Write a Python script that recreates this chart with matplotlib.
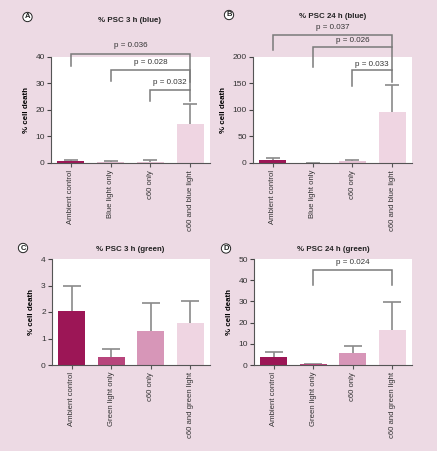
import matplotlib
matplotlib.use("Agg")
import matplotlib.pyplot as plt

plt.rcParams['font.family'] = ['Liberation Sans', 'DejaVu Sans']

cats_blue = ["Ambient control", "Blue light only", "c60 only", "c60 and blue light"]
cats_green = ["Ambient control", "Green light only", "c60 only", "c60 and green light"]

a_mean = [0.9, 0.4, 0.4, 14.7]
a_err = [0.4, 0.4, 0.7, 7.5]
b_mean = [5.0, 0.5, 3.0, 97.0]
b_err = [4.0, 0.3, 2.5, 51.0]
c_mean = [2.03, 0.30, 1.28, 1.58]
c_err = [0.97, 0.32, 1.05, 0.84]
d_mean = [3.6, 0.3, 5.6, 16.5]
d_err = [2.6, 0.4, 3.5, 13.0]

a_ticks = [0, 10, 20, 30, 40]
b_ticks = [0, 50, 100, 150, 200]
c_ticks = [0, 1, 2, 3, 4]
d_ticks = [0, 10, 20, 30, 40, 50]

# brackets: (i, j, y_top, y_left_leg, y_right_leg, label, y_text)
a_sig = [(0, 3, 41.1, 36.7, 30.5, "p = 0.036", 44.5),
         (1, 3, 35.1, 30.9, 27.5, "p = 0.028", 37.8),
         (2, 3, 27.5, 23.4, 23.4, "p = 0.032", 30.2)]
b_sig = [(0, 3, 241.5, 213, 219.5, "p = 0.037", 256),
         (1, 3, 219.5, 182, 175.5, "p = 0.026", 231),
         (2, 3, 175.5, 146, 152, "p = 0.033", 186)]
c_sig = []
d_sig = [(1, 3, 44.8, 37.7, 37.7, "p = 0.024", 48.4)]

colors_blue = ['#9c1656', '#e2bdd0', '#e6c3d5', '#efd5e2']
colors_green = ['#9c1656', '#b8457c', '#d796b8', '#efd5e2']

BG = '#eddae4'
fig = plt.figure(figsize=(4.37, 4.51), dpi=100, facecolor=BG)

W, H = 437.0, 451.0

def make_ax(l, r, t, b):
    return fig.add_axes([l / W, 1 - b / H, (r - l) / W, (b - t) / H])

panels = [
    ("A", "% PSC 3 h (blue)", cats_blue, a_mean, a_err, a_ticks, a_sig, colors_blue,
     (51, 210, 57, 163), (27.5, 17), (130, 21), 4.8),
    ("B", "% PSC 24 h (blue)", cats_blue, b_mean, b_err, b_ticks, b_sig, colors_blue,
     (253, 412, 57, 163), (229, 15), (333, 17), 4.8),
    ("C", "% PSC 3 h (green)", cats_green, c_mean, c_err, c_ticks, c_sig, colors_green,
     (52, 210, 259, 365), (23, 248), (130, 249.5), 6.8),
    ("D", "% PSC 24 h (green)", cats_green, d_mean, d_err, d_ticks, d_sig, colors_green,
     (254, 412, 259, 365), (226, 248.5), (333, 249.5), 6.8),
]

for (lab, title, cats, mean, err, ticks, sig, cols, box, lpos, tpos, cap) in panels:
    ax = make_ax(*box)
    ax.set_facecolor('white')
    x = list(range(len(cats)))
    eb = ax.errorbar(x, mean, yerr=[[0] * len(err), err], fmt='none', ecolor='#8a8a8a',
                     elinewidth=1.2, capsize=cap, capthick=1.2, zorder=1)
    # keep only the upper caps
    eb[1][0].set_visible(False)
    ax.bar(x, mean, width=0.68, color=cols, zorder=2)
    ax.set_xlim(-0.5, 3.5)
    ax.set_ylim(ticks[0], ticks[-1])
    ax.set_yticks(ticks)
    ax.set_xticks(x)
    ax.set_xticklabels(cats, rotation=90, fontsize=5.6, color='#333333')
    ax.tick_params(axis='y', labelsize=6, colors='#444444', labelcolor='#333333',
                   length=3, width=0.8, pad=1.5)
    ax.tick_params(axis='x', length=3, width=0.8, colors='#555555', labelcolor='#333333', pad=2)
    for s in ['top', 'right']:
        ax.spines[s].set_visible(False)
    for s in ['left', 'bottom']:
        ax.spines[s].set_color('#555555')
        ax.spines[s].set_linewidth(0.8)
    ax.set_ylabel("% cell death", fontsize=5.7, fontweight='bold', labelpad=4)
    for (i, j, yt, yl, yr, txt, ytx) in sig:
        ax.plot([i, i, j, j], [yl, yt, yt, yr], color='#7a7a7a', lw=1.1,
                clip_on=False, zorder=3, solid_joinstyle='miter')
        ax.text((i + j) / 2, ytx, txt, ha='center', va='center', fontsize=5.8,
                color='#333333', clip_on=False)
    fig.text(tpos[0] / W, 1 - tpos[1] / H, title, ha='center', va='center',
             fontsize=5.7, fontweight='bold', color='#222222')
    fig.text(lpos[0] / W, 1 - lpos[1] / H, lab, ha='center', va='center',
             fontsize=5.5, fontweight='bold', color='#222222',
             bbox=dict(boxstyle='circle,pad=0.15', fc='white', ec='#222222', lw=0.7))

fig.savefig("out.png", dpi=100, facecolor=BG)
